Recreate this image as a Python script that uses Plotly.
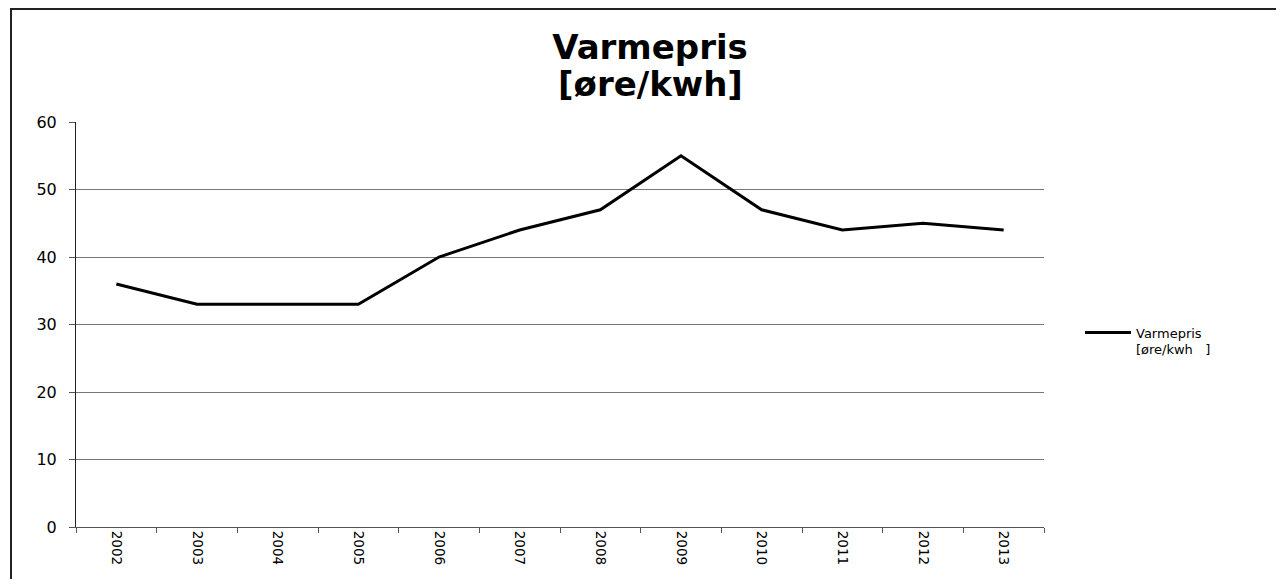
import plotly.graph_objects as go

years = ["2002", "2003", "2004", "2005", "2006", "2007", "2008", "2009", "2010", "2011", "2012", "2013"]
varmepris = [36, 33, 33, 33, 40, 44, 47, 55, 47, 44, 45, 44]
y_ticks = [0, 10, 20, 30, 40, 50, 60]

FONT = "DejaVu Sans, sans-serif"

# the page body adds an 8px offset; compensate
OFF = 8
W, H = 1284 - OFF, 579 - OFF
L, T = 76 - OFF, 122 - OFF
pw, ph = 968, 405
R = W - L - pw
B = H - T - ph
PX0, PY0 = 76, 527  # page coords of plot-area bottom-left


def px(x):
    return (x - PX0) / pw


def py(y):
    return (PY0 - y) / ph


fig = go.Figure()
fig.add_trace(go.Scatter(
    x=years, y=varmepris, mode="lines",
    name="Varmepris<br>[øre/kwh   ]",
    line=dict(color="black", width=3),
))

fig.update_layout(
    width=W, height=H,
    margin=dict(l=L, r=R, t=T, b=B),
    paper_bgcolor="white", plot_bgcolor="white",
    font=dict(family=FONT, color="black", size=13),
    title=dict(text="<b>Varmepris</b>", xref="container", x=(650 - OFF) / W, xanchor="center",
               yref="container", y=1 - (47 - OFF) / H, yanchor="middle",
               font=dict(size=34, family=FONT)),
    annotations=[dict(text="<b>[øre/kwh]</b>", xref="paper", yref="paper",
                      x=px(650), y=py(84), xanchor="center", yanchor="middle",
                      showarrow=False, font=dict(size=34, family=FONT))],
    showlegend=True,
    legend=dict(x=px(1080), y=py(341), xanchor="left", yanchor="middle", valign="top",
                font=dict(size=13, family=FONT), bgcolor="rgba(0,0,0,0)", itemwidth=46),
    xaxis=dict(type="category", range=[-0.5, 11.5], showline=True, linecolor="#555", linewidth=1,
               ticks="outside", tickson="boundaries", ticklen=5, tickcolor="#555",
               tickangle=90, showgrid=False, tickfont=dict(size=13.5)),
    yaxis=dict(range=[0, 60], tickvals=y_ticks, showline=True, linecolor="#222", linewidth=1,
               ticks="outside", ticklen=6, tickcolor="#555", showgrid=True,
               gridcolor="#777", gridwidth=1, zeroline=False, tickfont=dict(size=16),
               ticklabelstandoff=9),
    shapes=[dict(type="rect", xref="paper", yref="paper",
                 x0=px(11), x1=px(1290), y0=py(585), y1=py(9),
                 line=dict(color="#222", width=2), fillcolor="rgba(0,0,0,0)", layer="below")],
)

fig.write_html("out.html")
